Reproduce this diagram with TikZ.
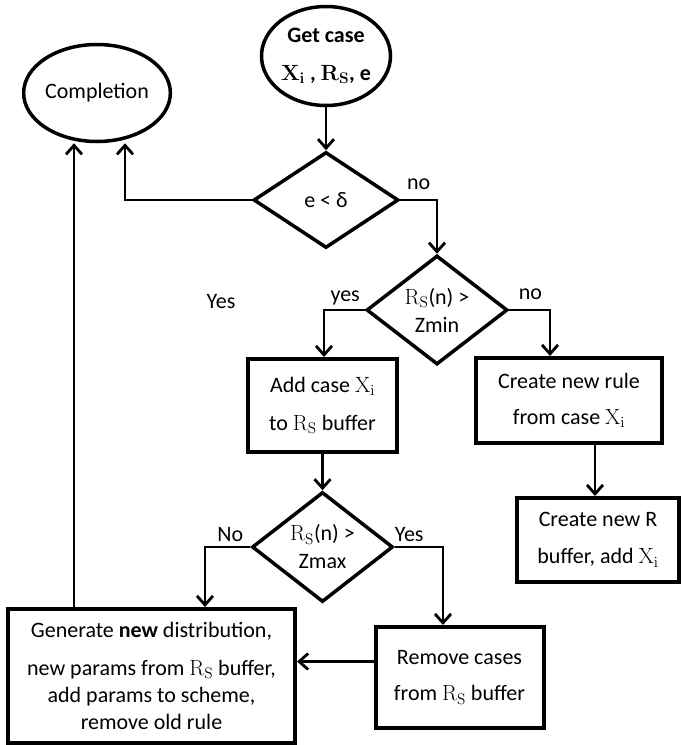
\RequirePackage{fix-cm}
\documentclass[tikz,border=0pt]{standalone}
\usepackage[no-math]{fontspec}
\setmainfont{Carlito}
\usetikzlibrary{shapes.geometric, arrows.meta}
\tikzset{
  flowbox/.style={draw, line width=4pt, inner sep=0pt, align=center},
  oval/.style={ellipse, draw, line width=3.5pt, inner sep=0pt, align=center},
  decision/.style={diamond, draw, line width=3.5pt, inner sep=0pt, aspect=1.3, align=center},
  flow/.style={line width=2.8pt, -{Straight Barb[length=9pt, width=16pt]}},
  lbl/.style={anchor=base, inner sep=0pt}
}

\begin{document}
\begin{tikzpicture}[x=1pt, y=-1pt, font=\fontsize{22}{28}\selectfont]
    \useasboundingbox (0,0) rectangle (682,745);
    \node[oval, minimum width=129pt, minimum height=99pt] (getcase) at (326,56)
      {\textbf{Get case}\\[10pt]$\mathbf{X_i}$ \textbf{,} $\mathbf{R_S}$\textbf{, e}};
    \node[oval, minimum width=128pt, minimum height=97pt] (completion) at (97,93) {Completion};
    \node[decision, minimum width=145pt, minimum height=96pt] (echeck) at (326,200) {e < δ};
    \node[decision, minimum width=141pt, minimum height=109pt] (zmin) at (437,310)
      {$\mathrm{R_S}$(n) >\\Zmin};
    \node[flowbox, minimum width=149pt, minimum height=93pt] (addcase) at (322.5,405.5)
      {Add case $\mathrm{X_i}$\\[10pt]to $\mathrm{R_S}$ buffer};
    \node[flowbox, minimum width=186pt, minimum height=85pt] (newrule) at (569,400.5)
      {Create new rule\\[8pt]from case $\mathrm{X_i}$};
    \node[flowbox, minimum width=162pt, minimum height=84pt] (newbuf) at (598,540)
      {Create new R\\[9pt]buffer, add $\mathrm{X_i}$};
    \node[decision, minimum width=141pt, minimum height=110pt] (zmax) at (322.5,547)
      {$\mathrm{R_S}$(n) >\\Zmax};
    \node[flowbox, minimum width=287pt, minimum height=134pt] (generate) at (151.5,676)
      {Generate \textbf{new} distribution,\\[10pt]new params from $\mathrm{R_S}$ buffer,\\[-1pt]add params to scheme,\\[-1pt]remove old rule};
    \node[flowbox, minimum width=168pt, minimum height=101pt] (remove) at (459.5,677.5)
      {Remove cases\\[8pt]from $\mathrm{R_S}$ buffer};
    \node[lbl] (yestext) at (221,308) {Yes};

    \draw[flow] (getcase) -- (echeck);
    \draw[flow] (echeck.west) -| ([xshift=28pt]completion.south);
    \draw[flow] (echeck.east) -| (zmin.north) node[lbl, pos=0.25, yshift=11pt] {no};
    \draw[flow] (zmin.west) -| ([xshift=1.5pt]addcase.north) node[lbl, pos=0.24, yshift=9pt] {yes};
    \draw[flow] (zmin.east) -| ([xshift=-19pt]newrule.north) node[lbl, pos=0.26, yshift=11pt] {no};
    \draw[flow] (addcase) -- (zmax);
    \draw[flow] ([xshift=26pt]newrule.south) -- ([xshift=26pt]newrule.south |- newbuf.north);
    \draw[flow] (zmax.west) -| ([xshift=53.5pt]generate.north) node[lbl, pos=0.22, yshift=6pt] {No};
    \draw[flow] (zmax.east) -| ([xshift=-16.5pt]remove.north) node[lbl, pos=0.15, yshift=6pt] {Yes};
    \draw[flow] ([yshift=16pt]remove.west) -- ([yshift=16pt]remove.west -| generate.east);
    \draw[flow] ([xshift=-77.5pt]generate.north) -- ([xshift=-77.5pt]generate.north |- completion.south);
\end{tikzpicture}
\end{document}
